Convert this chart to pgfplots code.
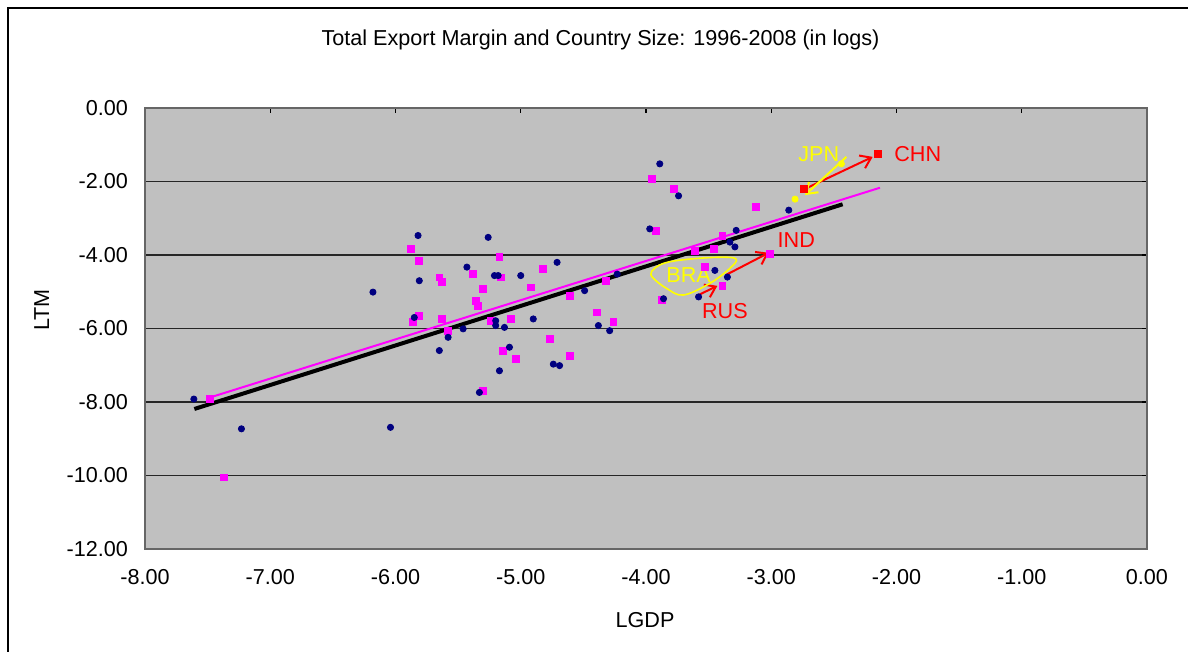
\documentclass[border=0pt]{standalone}
\usepackage{fontspec}
\setmainfont{Liberation Sans}
\usepackage{pgfplots}
\pgfplotsset{compat=1.18}
\usetikzlibrary{arrows.meta}
\definecolor{navy}{RGB}{0,0,128}
\definecolor{plotgray}{RGB}{192,192,192}
\definecolor{xlyellow}{RGB}{255,255,0}
\definecolor{xlred}{RGB}{255,0,0}
\definecolor{xlmag}{RGB}{255,0,255}
\begin{document}
\begin{tikzpicture}[x=1pt,y=1pt]
\useasboundingbox (0,0) rectangle (594,326);
\draw[black, line width=0.6pt] (4,0) -- (4,322) -- (594,322);
\node[font=\fontsize{10.8}{13}\selectfont] at (300.25,306) {Total Export Margin and Country Size: 1996-2008 (in logs)};
\node[font=\fontsize{10.8}{13}\selectfont] at (322.5,16) {LGDP};
\node[font=\fontsize{10.8}{13}\selectfont, rotate=90] at (20.8,171) {LTM};
\begin{axis}[
  at={(72.5pt,51.5pt)}, anchor=south west,
  scale only axis, width=501pt, height=220.5pt,
  xmin=-8, xmax=0, ymin=-12, ymax=0,
  axis background/.style={fill=plotgray},
  axis line style={draw=black!60, line width=0.6pt},
  xtick={-8,-7,-6,-5,-4,-3,-2,-1,0},
  xticklabels={-8.00,-7.00,-6.00,-5.00,-4.00,-3.00,-2.00,-1.00,0.00},
  ytick={-12,-10,-8,-6,-4,-2,0},
  yticklabels={-12.00,-10.00,-8.00,-6.00,-4.00,-2.00,0.00},
  xtick pos=right, xticklabel pos=left,
  ytick pos=right, yticklabel pos=left,
  tick align=inside, major tick length=2.5pt,
  tick style={black, line width=0.6pt},
  ymajorgrids, grid style={black!85, line width=0.6pt},
  ticklabel style={font=\fontsize{10.8}{13}\selectfont},
  xticklabel style={yshift=-6.5pt},
  yticklabel style={xshift=-5pt},
  clip=false,
]
% magenta squares (series 2)
\addplot[only marks, mark=square*, mark size=1.7pt, color=xlmag] coordinates {
(-5.88,-3.84) (-5.81,-4.16) (-5.17,-4.06) (-5.65,-4.61) (-5.63,-4.74)
(-5.38,-4.52) (-5.16,-4.61) (-4.82,-4.38) (-5.30,-4.93) (-4.92,-4.88)
(-5.36,-5.24) (-5.34,-5.38) (-4.61,-5.11) (-4.32,-4.70) (-3.92,-3.34)
(-5.81,-5.65) (-5.86,-5.83) (-5.63,-5.74) (-5.58,-6.06) (-5.24,-5.79)
(-5.08,-5.74) (-4.39,-5.56) (-4.26,-5.83) (-4.77,-6.29) (-4.61,-6.74)
(-5.14,-6.60) (-5.04,-6.83) (-5.30,-7.69) (-7.48,-7.92) (-7.37,-10.05)
(-3.95,-1.93) (-3.78,-2.20) (-3.12,-2.70) (-3.39,-3.47) (-3.46,-3.84)
(-3.61,-3.88) (-3.53,-4.32) (-3.39,-4.84) (-3.01,-3.96) (-3.87,-5.23)
};
% navy circles (series 1)
\addplot[only marks, mark=*, mark size=1.55pt, color=navy] coordinates {
(-5.82,-3.47) (-5.26,-3.52) (-6.18,-5.01) (-5.81,-4.70) (-5.43,-4.33)
(-5.21,-4.56) (-5.18,-4.56) (-5.00,-4.56) (-4.71,-4.20) (-3.97,-3.29)
(-4.23,-4.52) (-4.49,-4.97) (-5.85,-5.70) (-5.46,-6.01) (-5.58,-6.24)
(-5.65,-6.60) (-5.20,-5.79) (-5.20,-5.92) (-5.13,-5.97) (-4.90,-5.74)
(-5.09,-6.51) (-5.17,-7.15) (-4.74,-6.97) (-4.69,-7.01) (-4.38,-5.92)
(-4.29,-6.06) (-5.33,-7.74) (-6.04,-8.69) (-7.61,-7.92) (-7.23,-8.73)
(-3.89,-1.52) (-3.74,-2.39) (-2.86,-2.78) (-3.28,-3.33) (-3.33,-3.65)
(-3.29,-3.78) (-3.45,-4.42) (-3.35,-4.60) (-3.58,-5.14) (-3.86,-5.19)
};
% fitted lines
\addplot[xlmag, line width=1pt, no marks] coordinates {(-7.475,-7.87) (-2.132,-2.17)};
\addplot[black, line width=2pt, no marks] coordinates {(-7.606,-8.19) (-2.43,-2.62)};
% highlighted countries
\addplot[only marks, mark=square*, mark size=1.6pt, color=xlred] coordinates {(-2.74,-2.20) (-2.15,-1.25)};
\addplot[only marks, mark=*, mark size=1.55pt, color=xlyellow] coordinates {(-2.81,-2.48) (-2.44,-1.52)};
% arrows
\draw[xlred, line width=1pt, -{Straight Barb[length=5pt,width=7pt]}] (axis cs:-2.73,-2.20) -- (axis cs:-2.19,-1.33);
\draw[xlyellow, line width=1pt, -{Straight Barb[length=5pt,width=7pt]}] (axis cs:-2.40,-1.33) -- (axis cs:-2.73,-2.37);
\draw[xlred, line width=1pt, -{Straight Barb[length=5pt,width=7pt]}] (axis cs:-3.36,-4.54) -- (axis cs:-3.02,-3.94);
\draw[xlred, line width=1pt, -{Straight Barb[length=5pt,width=7pt]}] (axis cs:-3.60,-5.12) -- (axis cs:-3.43,-4.84);
% BRA loop
\draw[xlyellow, line width=0.8pt] plot[smooth cycle, tension=0.6] coordinates {
(axis cs:-3.955,-4.45) (axis cs:-3.862,-4.23) (axis cs:-3.675,-4.12) (axis cs:-3.409,-4.06)
(axis cs:-3.281,-4.11) (axis cs:-3.329,-4.36) (axis cs:-3.489,-4.77) (axis cs:-3.702,-5.09)
(axis cs:-3.835,-4.91) (axis cs:-3.942,-4.63)};
% labels
\node[xlyellow, font=\fontsize{10.8}{13}\selectfont] at (axis cs:-2.62,-1.25) {JPN};
\node[xlred, font=\fontsize{10.8}{13}\selectfont] at (axis cs:-1.83,-1.25) {CHN};
\node[xlred, font=\fontsize{10.8}{13}\selectfont] at (axis cs:-2.80,-3.59) {IND};
\node[xlred, font=\fontsize{10.8}{13}\selectfont] at (axis cs:-3.37,-5.52) {RUS};
\node[xlyellow, font=\fontsize{10.8}{13}\selectfont] at (axis cs:-3.66,-4.54) {BRA};
\end{axis}
\end{tikzpicture}
\end{document}
